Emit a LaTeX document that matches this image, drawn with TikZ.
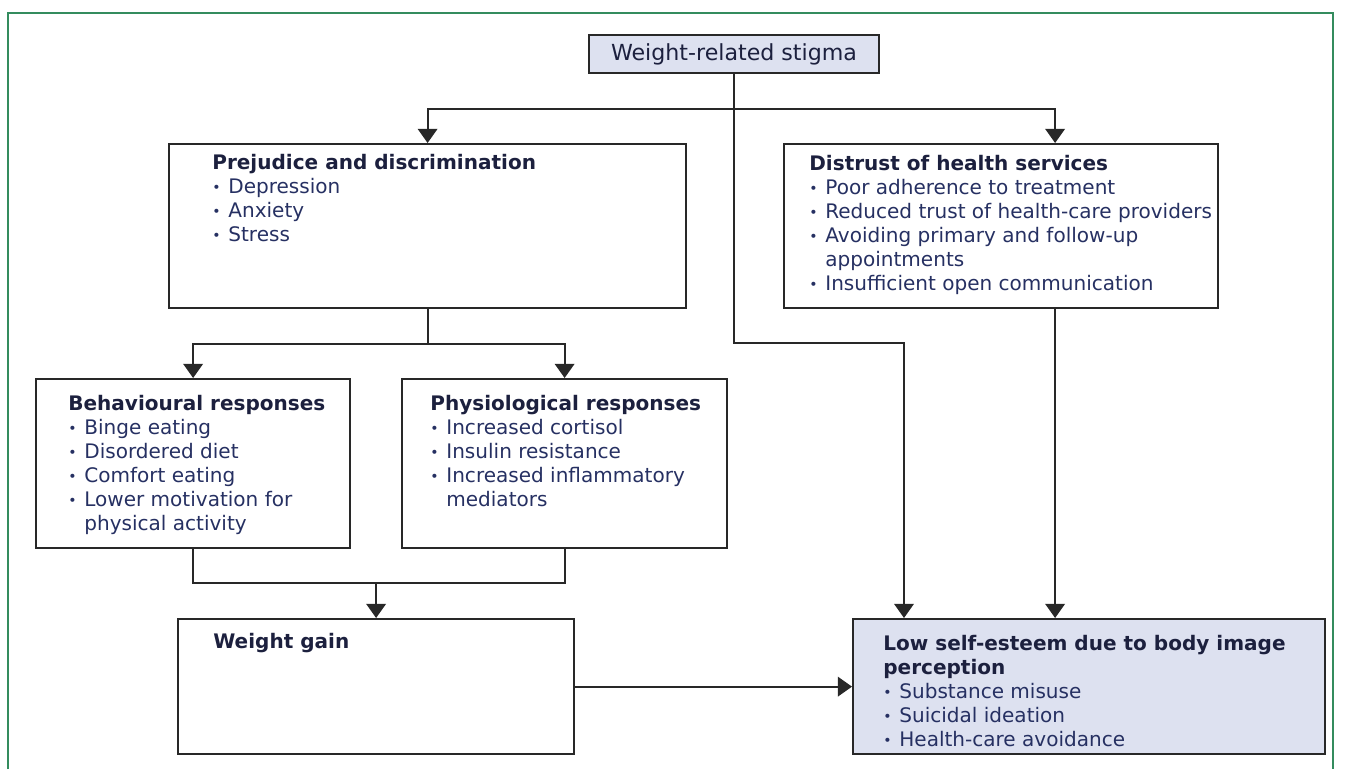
\documentclass[tikz,border=0pt]{standalone}
\usepackage{fontspec}
\setmainfont{DejaVu Sans}
\usetikzlibrary{arrows.meta, positioning, calc}
\definecolor{framegreen}{RGB}{52, 140, 94}
\definecolor{stigmafill}{RGB}{221, 225, 240}
\definecolor{boxline}{RGB}{40, 40, 40}
\definecolor{headnavy}{RGB}{28, 32, 62}
\definecolor{itemnavy}{RGB}{38, 48, 98}
\newcommand{\blt}{\makebox[0.8em][l]{\raisebox{0.05ex}{\footnotesize\textbullet}}}
\newcommand{\cnt}{\hspace*{0.8em}}
\newcommand{\hd}[1]{{\bfseries\color{headnavy}#1}}
\tikzset{
    box/.style={
        draw=boxline,
        line width=1.3pt,
        inner sep=0pt,
        anchor=north west,
    },
    shadedbox/.style={
        box,
        fill=stigmafill,
    },
    txt/.style={
        anchor=north west,
        inner sep=0pt,
        align=left,
        font=\fontsize{11.4}{13.6}\selectfont,
        text=itemnavy,
    },
    arrow/.style={
        -{Triangle[width=11pt, length=8pt]},
        line width=1.2pt,
        color=boxline,
    },
    link/.style={
        line width=1.2pt,
        color=boxline,
    },
}

\begin{document}
\begin{tikzpicture}[x=0.02cm, y=-0.02cm]
\useasboundingbox (0,0) rectangle (1349,769);

% ===== frame =====
\draw[framegreen, line width=1.6pt] (8,769) |- (1333,13) -- (1333,769);

% ===== top =====
\node[shadedbox, anchor=center, minimum width=5.8cm, minimum height=0.76cm,
      font=\fontsize{12.6}{14}\selectfont, text=headnavy] (stigma) at (734,54) {Weight-related stigma};

% ===== second row =====
\node[box, minimum width=10.34cm, minimum height=3.28cm] (prej) at (168,143) {};
\node[txt] (prejtxt) at ($(prej.north west)+(44,11)$) {\hd{Prejudice and discrimination}\\
    \blt Depression\\
    \blt Anxiety\\
    \blt Stress};

\node[box, minimum width=8.68cm, minimum height=3.28cm] (dist) at (783,143) {};
\node[txt] (disttxt) at ($(dist.north west)+(26,12)$) {\hd{Distrust of health services}\\
    \blt Poor adherence to treatment\\
    \blt Reduced trust of health-care providers\\
    \blt Avoiding primary and follow-up\\
    \cnt appointments\\
    \blt Insufficient open communication};

% ===== third row =====
\node[box, minimum width=6.28cm, minimum height=3.38cm] (behav) at (35,378) {};
\node[txt] (behavtxt) at ($(behav.north west)+(33,17)$) {\hd{Behavioural responses}\\
    \blt Binge eating\\
    \blt Disordered diet\\
    \blt Comfort eating\\
    \blt Lower motivation for\\
    \cnt physical activity};

\node[box, minimum width=6.5cm, minimum height=3.38cm] (phys) at (401,378) {};
\node[txt] (phystxt) at ($(phys.north west)+(29,17)$) {\hd{Physiological responses}\\
    \blt Increased cortisol\\
    \blt Insulin resistance\\
    \blt Increased inflammatory\\
    \cnt mediators};

% ===== bottom row =====
\node[box, minimum width=7.92cm, minimum height=2.7cm] (gain) at (177,618) {};
\node[txt] (gaintxt) at ($(gain.north west)+(36,15)$) {\hd{Weight gain}};

\node[shadedbox, minimum width=9.44cm, minimum height=2.7cm] (low) at (852,618) {};
\node[txt] (lowtxt) at ($(low.north west)+(31,17)$) {\hd{Low self-esteem due to body image}\\
    \hd{perception}\\
    \blt Substance misuse\\
    \blt Suicidal ideation\\
    \blt Health-care avoidance};

% ===== connectors =====
\coordinate (split) at ($(stigma.south)+(0,35)$);
\coordinate (bend) at ($(stigma.south)+(170,269)$);
\coordinate (dhead) at ($(dist.north)+(54,0)$);
\coordinate (dtail) at ($(dist.south)+(54,0)$);
\coordinate (merge) at ($(gain.north)+(0,-35)$);

\draw[arrow] (stigma.south) |- (bend) -- (bend |- low.north);
\draw[arrow] (split) -| (prej.north);
\draw[arrow] (split) -| (dhead);

\draw[link] (prej.south) -- ++(0,35) coordinate (fork);
\draw[arrow] (fork) -| (behav.north);
\draw[arrow] (fork) -| (phys.north);

\draw[link] (behav.south) |- (merge) -| (phys.south);
\draw[arrow] (merge) -- (gain.north);

\draw[arrow] (gain.east) -- (low.west);
\draw[arrow] (dtail) -- (dtail |- low.north);

\end{tikzpicture}
\end{document}
